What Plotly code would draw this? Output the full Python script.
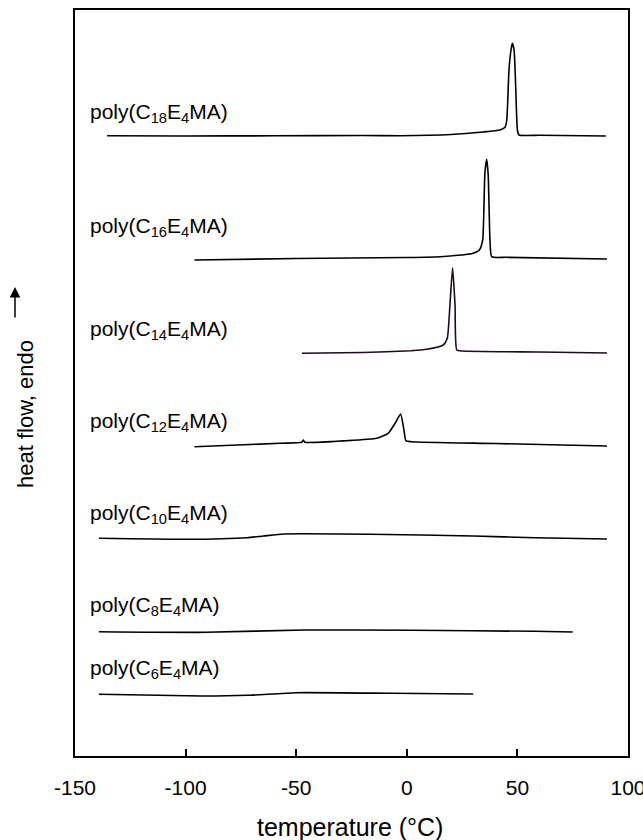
import plotly.graph_objects as go

# Temperatures (°C) and heat flow (arbitrary units, vertically offset curves)
c18_T = [-135.5, -100, -60, -20, -3, 20, 34.5, 42.1, 44.4, 45.2, 46.2, 47.1, 47.7, 48.5, 49.2, 50.0, 50.7, 60, 90]
c18_H = [620.3, 620, 620.2, 620.5, 620.3, 621.5, 624, 626, 628.7, 636, 686, 706, 712.7, 706, 671, 626, 621, 620.7, 620]

c16_T = [-96, -50, 0, 15, 30, 32.8, 34.3, 35.3, 36.1, 36.8, 37.6, 38.4, 45, 90.5]
c16_H = [496, 497.5, 498.5, 499.3, 502.7, 506, 516, 583, 596.7, 581, 516, 499.3, 498.7, 497]

c14_T = [-47.4, -20, 2, 9, 16.5, 18.3, 19.5, 20.7, 21.8, 22.6, 25, 60, 90.5]
c14_H = [402.7, 403.5, 405.3, 406.7, 411, 417.7, 451, 488.3, 451, 406, 405, 404, 403]

c12_T = [-96, -57.3, -47.5, -46.8, -46.1, -27.2, -13.6, -8.4, -5.3, -2.8, -1.3, -0.4, 2, 40, 90.5]
c12_H = [309.3, 312.7, 313.7, 316, 313.8, 315.3, 317.7, 322.7, 332.7, 342, 326, 315.3, 314.3, 312.5, 310]

c10_T = [-139.2, -100, -72.2, -64.8, -55.5, -16.5, 30, 58, 90.5]
c10_H = [217.7, 216.7, 218.3, 220, 222, 221.7, 220, 218.3, 217]

c8_T = [-139.2, -90.9, -46.2, 2.1, 58, 75]
c8_H = [124.3, 123.7, 126, 125.7, 124.7, 124]

c6_T = [-139.2, -92.7, -72, -50, -7, 30]
c6_H = [61.7, 60, 60.7, 63.3, 62.7, 62]

names = ["18", "16", "14", "12", "10", "8", "6"]
label_H = [643, 529, 426, 334, 242, 150, 87]
series = [(c18_T, c18_H), (c16_T, c16_H), (c14_T, c14_H), (c12_T, c12_H),
          (c10_T, c10_H), (c8_T, c8_H), (c6_T, c6_H)]
colors = ["#000000", "#000000", "#1e0b21", "#000000", "#000000", "#000000", "#000000"]

xticks = [-150, -100, -50, 0, 50, 100]

fig = go.Figure()
for (T, H), c in zip(series, colors):
    fig.add_trace(go.Scatter(x=T, y=H, mode="lines",
                             line=dict(color=c, width=1.6, shape="spline", smoothing=0.5),
                             showlegend=False, hoverinfo="skip"))

FONT = "Liberation Sans, Arial, sans-serif"
for n, h in zip(names, label_H):
    fig.add_annotation(x=-144.1, y=h, xref="x", yref="y", xanchor="left", yanchor="middle",
                       text=f"poly(C<sub>{n}</sub>E<sub>4</sub>MA)", showarrow=False,
                       font=dict(family=FONT, size=21, color="black"))

L, R, T_, B = 75, 15, 10, 84
W, Hh = 643, 840
pw, ph = W - L - R, Hh - T_ - B

def px(xp):
    return (xp - L) / pw

def py(yp):
    return (Hh - B - yp) / ph

# x-axis title
fig.add_annotation(x=px(350), y=py(827), xref="paper", yref="paper", xanchor="center", yanchor="middle",
                   text="temperature (°C)", showarrow=False,
                   font=dict(family=FONT, size=25, color="black"))
# y-axis title
fig.add_annotation(x=px(25), y=py(414), xref="paper", yref="paper", xanchor="center", yanchor="middle",
                   text="heat flow, endo", textangle=-90, showarrow=False,
                   font=dict(family=FONT, size=22, color="black"))
# arrow
fig.add_annotation(x=px(15), y=py(287), xref="paper", yref="paper", ax=0, ay=32,
                   text="", showarrow=True, arrowhead=2, arrowsize=1.4, arrowwidth=1.5,
                   arrowcolor="black")

fig.update_layout(
    width=W, height=Hh,
    margin=dict(l=L, r=R, t=T_, b=B, autoexpand=False),
    paper_bgcolor="white", plot_bgcolor="white",
    font=dict(family=FONT, color="black"),
    xaxis=dict(range=[-150, 100], tickvals=xticks, ticktext=[str(v) for v in xticks],
               ticks="inside", ticklen=7, tickwidth=1.5, tickcolor="black",
               showline=True, linecolor="black", linewidth=2, mirror=True,
               showgrid=False, zeroline=False, ticklabelstandoff=12,
               ticklabeloverflow="allow", automargin=False,
               tickfont=dict(family=FONT, size=21, color="black")),
    yaxis=dict(range=[0, 746], showticklabels=False, ticks="",
               showline=True, linecolor="black", linewidth=2, mirror=True,
               showgrid=False, zeroline=False, automargin=False),
)

fig.write_html("out.html", config={"displayModeBar": False},
               post_script="document.body.style.margin='0';document.body.style.overflow='hidden';")
